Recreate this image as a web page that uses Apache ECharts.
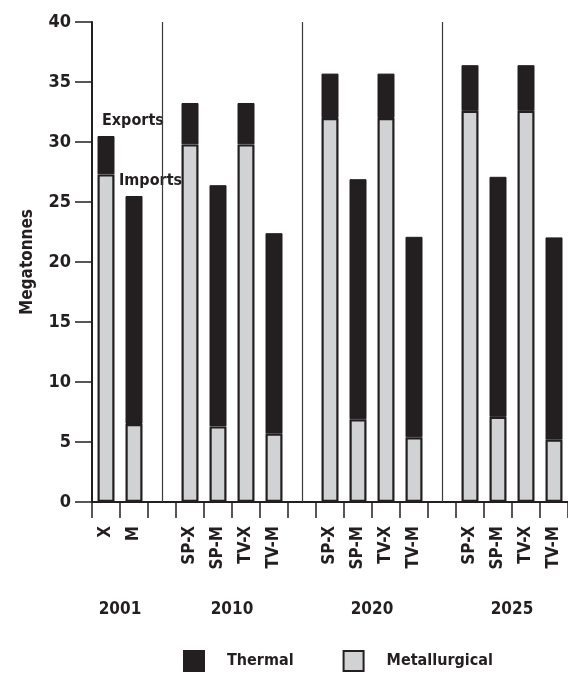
<!DOCTYPE html>
<html>
<head>
<meta charset="utf-8">
<script src="https://cdn.jsdelivr.net/npm/echarts@6/dist/echarts.min.js"></script>
<style>
html,body{margin:0;padding:0;background:#fff;}
#chart{width:568px;height:675px;}
</style>
</head>
<body>
<div id="chart"></div>
<script>
// ---- data ----
const categories = ['X', 'M', ' ', 'SP-X', 'SP-M', 'TV-X', 'TV-M', '  ', 'SP-X ', 'SP-M ', 'TV-X ', 'TV-M ', '   ', 'SP-X  ', 'SP-M  ', 'TV-X  ', 'TV-M  '];
const metallurgical = [27.3, 6.5, null, 29.8, 6.3, 29.8, 5.7, null, 32.0, 6.9, 32.0, 5.4, null, 32.6, 7.1, 32.6, 5.2];
const thermal       = [3.2, 19.0, null, 3.45, 20.1, 3.45, 16.7, null, 3.7, 20.0, 3.7, 16.7, null, 3.8, 20.0, 3.8, 16.85];
const yearLabels = ['2001', '2010', '2020', '2025'];
const yearSpans = [[0, 1], [3, 6], [8, 11], [13, 16]];
const separators = [2, 7, 12];

const FONT = "'DejaVu Sans Condensed', 'DejaVu Sans', sans-serif";
const INK = '#231f20';
const GREY = '#d1d2d4';

const chart = echarts.init(document.getElementById('chart'), null, {renderer: 'canvas'});

const option = {
  backgroundColor: '#fff',
  animation: false,
  grid: {left: 92, right: -3, top: 22, bottom: 173, containLabel: false},
  legend: {
    data: ['Thermal', 'Metallurgical'],
    left: 178, top: 645,
    itemWidth: 20, itemHeight: 20, itemGap: 49,
    icon: 'rect',
    textStyle: {fontFamily: FONT, fontWeight: 'bold', fontSize: 16, color: INK, padding: [0, 0, 0, 18]}
  },
  xAxis: {
    type: 'category',
    data: categories,
    axisLine: {lineStyle: {color: INK, width: 2}},
    axisTick: {show: true, length: 16, lineStyle: {color: INK, width: 1.5}, alignWithLabel: false, interval: 0},
    axisLabel: {
      interval: 0, rotate: 90, margin: 24,
      fontFamily: FONT, fontWeight: 'bold', fontSize: 17, color: INK,
      formatter: v => v.trim()
    }
  },
  yAxis: {
    type: 'value',
    min: 0, max: 40, interval: 5,
    name: 'Megatonnes',
    nameLocation: 'middle', nameGap: 56, nameRotate: 90,
    nameTextStyle: {fontFamily: FONT, fontWeight: 'bold', fontSize: 17, color: INK},
    axisLine: {show: true, lineStyle: {color: INK, width: 2}},
    axisTick: {show: true, length: 17, lineStyle: {color: INK, width: 1.5}},
    axisLabel: {margin: 21, fontFamily: FONT, fontWeight: 'bold', fontSize: 18, color: INK},
    splitLine: {show: false}
  },
  series: [
    {
      name: 'Metallurgical', type: 'bar', stack: 'total', data: metallurgical,
      barWidth: 17,
      itemStyle: {color: GREY, borderColor: INK, borderWidth: 2.2},
      markLine: {
        silent: true, symbol: ['none', 'none'],
        label: {show: false},
        lineStyle: {color: '#3a3a3a', width: 1.2, type: 'solid'},
        data: separators.map(i => ({xAxis: i}))
      }
    },
    {
      name: 'Thermal', type: 'bar', stack: 'total', data: thermal,
      barWidth: 17,
      itemStyle: {color: INK, borderColor: INK, borderWidth: 1}
    }
  ]
};
chart.setOption(option);

// annotations and group labels positioned with the chart's own scales
function px(cat, val) { return chart.convertToPixel({gridIndex: 0}, [cat, val]); }
const graphics = [];
yearSpans.forEach((s, k) => {
  const a = px(s[0], 0), b = px(s[1], 0);
  graphics.push({
    type: 'text', x: (a[0] + b[0]) / 2, y: 610,
    style: {text: yearLabels[k], font: 'bold 17px ' + FONT, fill: INK, align: 'center', verticalAlign: 'middle'}
  });
});
const ex = px(0, 31.8);
graphics.push({type: 'text', x: ex[0] - 4, y: ex[1],
  style: {text: 'Exports', font: 'bold 16px ' + FONT, fill: INK, align: 'left', verticalAlign: 'middle'}});
const im = px(1, 26.8);
graphics.push({type: 'text', x: im[0] - 15, y: im[1],
  style: {text: 'Imports', font: 'bold 16px ' + FONT, fill: INK, align: 'left', verticalAlign: 'middle'}});
chart.setOption({graphic: graphics});
</script>
</body>
</html>
